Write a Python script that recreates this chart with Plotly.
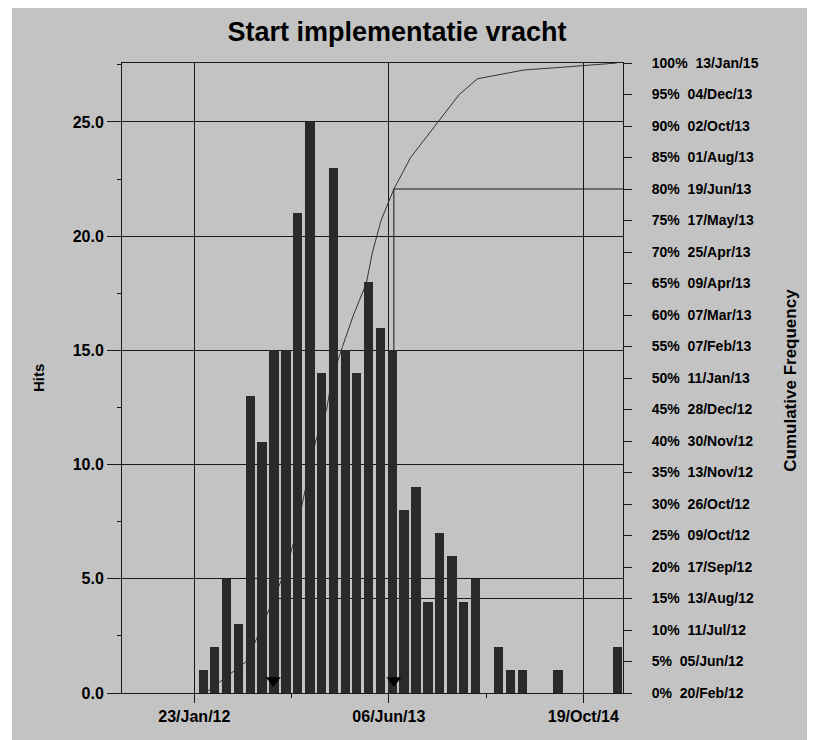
import plotly.graph_objects as go

# ---------------- data ----------------
month_centers = [
    "2012-02-15", "2012-03-15", "2012-04-15", "2012-05-15", "2012-06-15", "2012-07-15",
    "2012-08-15", "2012-09-15", "2012-10-15", "2012-11-15", "2012-12-15", "2013-01-15",
    "2013-02-15", "2013-03-15", "2013-04-15", "2013-05-15", "2013-06-15", "2013-07-15",
    "2013-08-15", "2013-09-15", "2013-10-15", "2013-11-15", "2013-12-15", "2014-01-15",
    "2014-02-15", "2014-03-15", "2014-04-15", "2014-05-15", "2014-06-15", "2014-07-15",
    "2014-08-15", "2014-09-15", "2014-10-15", "2014-11-15", "2014-12-15", "2015-01-15",
]
hits = [1, 2, 5, 3, 13, 11, 15, 15, 21, 25, 14, 23,
        15, 14, 18, 16, 15, 8, 9, 4, 7, 6, 4, 5,
        0, 2, 1, 1, 0, 0, 1, 0, 0, 0, 0, 2]

# cumulative frequency (percentile dates from the right axis + tail)
cum_dates = ["2012-02-20", "2012-06-05", "2012-07-11", "2012-08-13", "2012-09-17",
             "2012-10-09", "2012-10-26", "2012-11-13", "2012-11-30", "2012-12-28",
             "2013-01-11", "2013-02-07", "2013-03-07", "2013-04-09", "2013-04-25",
             "2013-05-17", "2013-06-19", "2013-08-01", "2013-10-02", "2013-12-04",
             "2014-01-20", "2014-03-20", "2014-04-20", "2014-05-20", "2014-08-20",
             "2015-01-13"]
cum_pct = [0, 5, 10, 15, 20, 25, 30, 35, 40, 45, 50, 55, 60, 65, 70, 75, 80, 85, 90, 95,
           97.5, 98.2, 98.55, 98.9, 99.3, 100]

# right-axis labels
pct_ticks = [0, 5, 10, 15, 20, 25, 30, 35, 40, 45, 50, 55, 60, 65, 70, 75, 80, 85, 90, 95, 100]
pct_dates = ["20/Feb/12", "05/Jun/12", "11/Jul/12", "13/Aug/12", "17/Sep/12", "09/Oct/12",
             "26/Oct/12", "13/Nov/12", "30/Nov/12", "28/Dec/12", "11/Jan/13", "07/Feb/13",
             "07/Mar/13", "09/Apr/13", "25/Apr/13", "17/May/13", "19/Jun/13", "01/Aug/13",
             "02/Oct/13", "04/Dec/13", "13/Jan/15"]

# x-axis ticks
x_tickvals = ["2012-01-23", "2013-06-06", "2014-10-19"]
x_ticktext = ["23/Jan/12", "06/Jun/13", "19/Oct/14"]
x_minor = ["2012-09-29", "2014-02-11"]
x_range = ["2011-07-21", "2015-01-29"]

# left axis
hits_ticks = [0, 5, 10, 15, 20, 25]

# percentile markers
marker_dates = ["2012-08-13", "2013-06-19"]
marker_pct = [15, 80]
marker_level = [0.55, 0.55]   # arrow heads just above the baseline (hits units)

# ---------------- figure ----------------
BG = "#c3c3c3"
INK = "#1a1a1a"
FONT = "Liberation Sans"
tfont = dict(family=FONT, size=16, color="black", weight="bold")

# the page body adds an 8px offset; the figure is sized to fill the rest of the window
W, H = 807, 732

fig = go.Figure()

# cumulative line (primary y = percentage axis, drawn beneath the bars)
fig.add_trace(go.Scatter(x=cum_dates, y=cum_pct, mode="lines",
                         line=dict(color="#333333", width=1), yaxis="y",
                         hoverinfo="skip", showlegend=False))

# percentile guide lines
for d, p in zip(marker_dates, marker_pct):
    fig.add_trace(go.Scatter(x=[d, d, x_range[1]], y=[0, p, p], mode="lines",
                             line=dict(color=INK, width=1), yaxis="y",
                             hoverinfo="skip", showlegend=False))

# bars (hits axis)
fig.add_trace(go.Bar(x=month_centers, y=hits, yaxis="y2",
                     marker=dict(color="#2a2a2a", line=dict(width=0)),
                     width=24 * 86400000, showlegend=False))

# triangle markers at the bottom
fig.add_trace(go.Scatter(x=marker_dates, y=marker_level, mode="markers",
                         marker=dict(symbol="triangle-down", size=13, color="black"),
                         yaxis="y2", hoverinfo="skip", showlegend=False))

fig.update_layout(
    width=W, height=H,
    margin=dict(l=114, r=192, t=55, b=47, autoexpand=False),
    paper_bgcolor="white",
    plot_bgcolor="rgba(0,0,0,0)",
    bargap=0,
    title=dict(text="Start implementatie vracht", x=389 / W, xanchor="center",
               y=1 - 24 / H, yanchor="middle", automargin=False,
               font=dict(family=FONT, size=27, color="black", weight="bold")),
    xaxis=dict(type="date", range=x_range, tickmode="array", automargin=False,
               tickvals=x_tickvals, ticktext=x_ticktext,
               showgrid=True, gridcolor=INK, gridwidth=1,
               showline=True, linecolor=INK, linewidth=1, mirror=True,
               ticks="outside", ticklen=9, tickcolor=INK,
               tickfont=tfont, zeroline=False,
               minor=dict(tickmode="array", tickvals=x_minor, ticks="outside",
                          ticklen=4, tickcolor=INK, showgrid=False)),
    yaxis=dict(range=[0, 100], side="right", tickmode="array", automargin=False,
               tickvals=pct_ticks,
               ticktext=[f"{p}%\u00a0\u00a0{d}" for p, d in zip(pct_ticks, pct_dates)],
               showgrid=False, zeroline=False,
               showline=True, linecolor=INK, linewidth=1,
               ticks="outside", ticklen=8, tickcolor=INK,
               ticklabelstandoff=17,
               tickfont=dict(family=FONT, size=14, color="black", weight="bold")),
    yaxis2=dict(range=[0, 27.58], side="left", overlaying="y", tickmode="array",
                automargin=False,
                tickvals=hits_ticks, tickformat=".1f",
                showgrid=True, gridcolor=INK, gridwidth=1, zeroline=False,
                showline=True, linecolor=INK, linewidth=1,
                ticks="outside", ticklen=14, tickcolor=INK,
                tickfont=tfont,
                minor=dict(dtick=2.5, tick0=0, ticks="outside", ticklen=4,
                           tickcolor=INK, showgrid=False)),
    shapes=[dict(type="rect", xref="paper", yref="paper", layer="below",
                 x0=-0.2196, x1=1.40, y0=-0.09, y1=1.097,
                 fillcolor=BG, line=dict(width=0))],
    annotations=[
        dict(text="Hits", xref="paper", yref="paper", x=-0.1677, y=0.5,
             textangle=-90, showarrow=False, xanchor="center", yanchor="middle",
             font=dict(family=FONT, size=15, color="black", weight="bold")),
        dict(text="Cumulative Frequency", xref="paper", yref="paper", x=1.335, y=0.497,
             textangle=-90, showarrow=False, xanchor="center", yanchor="middle",
             font=dict(family=FONT, size=17, color="black", weight="bold")),
    ],
)

fig.write_html("out.html")
